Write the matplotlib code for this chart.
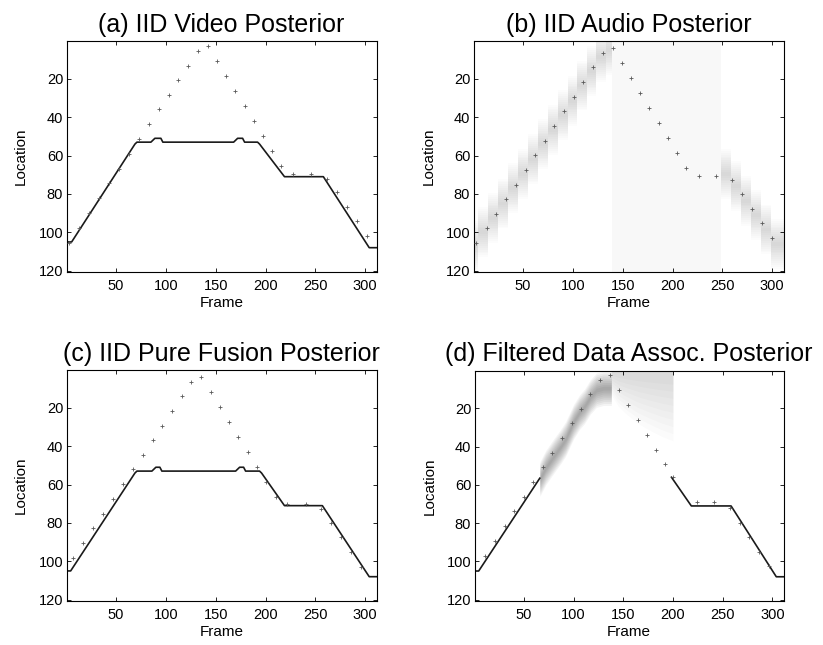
import matplotlib.pyplot as plt
import numpy as np

plt.rcParams['font.family'] = ['Liberation Sans', 'DejaVu Sans']

# ground truth location markers, one list per panel (marker phase differs)
truth_a_frames = [3, 13, 23, 33, 43, 53, 63, 73, 83, 93, 103, 112, 122, 132, 142,
                  151, 160, 169, 179, 188, 197, 206, 215.5, 228, 246, 262, 272, 282, 291.5, 301.5]
truth_a_locs = [105.4, 97.7, 90, 82.3, 74.5, 66.8, 59.1, 51.4, 43.6, 35.9, 28.3, 20.7, 13.1, 5.5, 3.1,
                10.8, 18.6, 26.4, 34.1, 41.9, 49.7, 57.8, 65.2, 69.4, 69.4, 72, 79.1, 86.6, 94.1, 101.9]

truth_b_frames = [3, 13.5, 23, 33, 43, 52.5, 62, 72, 81.5, 91, 101, 110.5, 120, 130, 140,
                  149, 158, 167.5, 176.5, 186, 195, 204.5, 213.5, 226.5, 244, 260, 270, 279.5, 289.5, 299.5]
truth_b_locs = [105.8, 98, 90.4, 82.8, 75.2, 67.4, 59.7, 52.3, 44.5, 36.9, 29.3, 21.5, 13.8, 6.3, 3.9,
                11.7, 19.5, 27.4, 35, 42.9, 50.7, 58.5, 66.4, 70.4, 70.4, 72.6, 80.1, 87.7, 95.1, 102.9]

truth_c_frames = [7, 17, 27, 37, 47, 57, 67, 77, 87, 96.5, 106, 116, 125.5, 135.5,
                  145, 154, 163, 172.5, 182, 191, 200.5, 210, 222, 240.5, 256, 266, 276, 286, 296]
truth_c_locs = [98.2, 90.5, 82.8, 75.2, 67.5, 59.8, 52.1, 44.5, 36.9, 29.3, 21.6, 14, 6.4, 4.1,
                11.9, 19.7, 27.4, 35.2, 43, 50.9, 58.5, 66.3, 70.3, 70.3, 72.8, 79.9, 87.5, 95.1, 102.9]

truth_d_frames = [11, 20.5, 30.5, 40, 50, 59, 69, 78, 88, 98, 107.5, 117, 127, 137,
                  146, 155, 164.5, 173.5, 183, 192, 200, 224, 241, 257, 267, 277, 287, 297]
truth_d_locs = [96.9, 89.3, 81.5, 73.9, 66.1, 58.5, 50.9, 43.1, 35.5, 27.8, 20.2, 12.4, 5.1, 2.7,
                10.5, 18.2, 26, 33.8, 41.6, 49.3, 56.1, 69.2, 69.2, 72.2, 79.7, 87.3, 95, 102.6]

# posterior mode paths
video_frames = [0.5, 5.5, 69, 71, 85, 87, 89, 95, 97, 168, 170, 172, 177, 179, 192, 194, 219, 258, 304, 311.5]
video_locs = [105, 105, 54, 53, 53, 52, 51, 51, 53, 53, 52, 51, 51, 53, 53, 54, 71, 71, 108, 108]

fusion_frames = [0.5, 4.5, 69, 71, 86, 88, 90, 94, 96, 170, 172, 174, 178, 180, 194, 196, 219, 257, 304, 311.5]
fusion_locs = [105, 105, 54, 53, 53, 52, 51, 51, 53, 53, 52, 51, 51, 53, 53, 54, 71, 71, 108, 108]

# audio posterior: blocks of frames with a blurred peak
audio_edges1 = [0.5, 5, 15, 25, 35, 45, 55, 65, 75, 85, 95, 104.5, 114, 123.5, 133.5, 139]
audio_centers1 = [107, 100, 92.5, 85, 77, 69.5, 62, 54, 46.5, 39, 31.5, 23.5, 16, 8.5, 5]
audio_edges2 = [249, 259, 269, 279, 289, 299, 311.5]
audio_centers2 = [69.5, 76, 83.5, 91, 98.5, 106]
audio_flat = (139, 249)

# filtered data association posterior
assoc_line1_frames = [0.5, 4.5, 66]
assoc_line1_locs = [105, 105, 56.5]
assoc_line2_frames = [198.5, 218.5, 258.5, 304, 311.5]
assoc_line2_locs = [56, 71, 71, 108, 108]
assoc_band_frames = [66, 72, 80, 87, 92, 100, 106, 111, 117, 123, 130, 138]
assoc_band_locs = [57, 51, 45, 40, 36, 27, 22, 19, 14, 10.5, 9.5, 9.5]
fan_frames = [138, 145, 153, 165, 175, 188, 200]
fan_lower = [13, 19, 23, 28, 31, 34.5, 37]


def setup(ax, title):
    ax.set_xlim(0.5, 311.5)
    ax.set_ylim(120.5, 0.5)
    ax.set_xticks([50, 100, 150, 200, 250, 300])
    ax.set_yticks([20, 40, 60, 80, 100, 120])
    ax.tick_params(direction='in', top=True, right=True, length=3, width=0.6,
                   labelsize=10.5)
    ax.tick_params(axis='x', pad=5)
    ax.tick_params(axis='y', pad=2.5)
    for s in ax.spines.values():
        s.set_linewidth(0.8)
    ax.set_title(title, fontsize=18, pad=7)
    ax.set_xlabel('Frame', fontsize=11)
    ax.set_ylabel('Location', fontsize=11)
    ax.xaxis.set_label_coords(0.5, -0.104)
    ax.yaxis.set_label_coords(-0.124, 0.5)


def band(ax, x, c, widths, alpha, step=None):
    # stacked translucent fills give a soft vertical profile
    c = np.asarray(c, dtype=float)
    for w in widths:
        ax.fill_between(x, c - w, c + w, color='k', alpha=alpha, lw=0, step=step)


def truth(ax, f, l):
    ax.plot(f, l, ls='none', marker='+', ms=2.3, mew=0.6, color='0.35', zorder=5)


fig = plt.figure(figsize=(8.23, 6.45), dpi=100)
ax_a = fig.add_axes([0.0810, 0.5788, 0.3767, 0.3570])
ax_b = fig.add_axes([0.5756, 0.5788, 0.3767, 0.3570])
ax_c = fig.add_axes([0.0810, 0.0687, 0.3767, 0.3572])
ax_d = fig.add_axes([0.5768, 0.0687, 0.3755, 0.3561])

# (a)
ax_a.plot(video_frames, video_locs, color='0.1', lw=1.2)
truth(ax_a, truth_a_frames, truth_a_locs)
setup(ax_a, '(a) IID Video Posterior')

# (b)
ax_b.axvspan(*audio_flat, color='0.972', lw=0, zorder=0)
audio_widths = np.arange(13, 0, -1)
band(ax_b, audio_edges1, audio_centers1 + audio_centers1[-1:], audio_widths, 0.013, step='post')
band(ax_b, audio_edges2, audio_centers2 + audio_centers2[-1:], audio_widths, 0.013, step='post')
truth(ax_b, truth_b_frames, truth_b_locs)
setup(ax_b, '(b) IID Audio Posterior')

# (c)
ax_c.plot(fusion_frames, fusion_locs, color='0.1', lw=1.2)
truth(ax_c, truth_c_frames, truth_c_locs)
setup(ax_c, '(c) IID Pure Fusion Posterior')

# (d)
for scale in np.linspace(1.0, 0.2, 9):
    ax_d.fill_between(fan_frames, 0, np.array(fan_lower) * scale,
                      color='k', alpha=0.017, lw=0)
band(ax_d, assoc_band_frames, assoc_band_locs, np.arange(9, 0, -1), 0.045)
ax_d.plot(assoc_line1_frames, assoc_line1_locs, color='0.1', lw=1.2)
ax_d.plot(assoc_line2_frames, assoc_line2_locs, color='0.1', lw=1.2)
truth(ax_d, truth_d_frames, truth_d_locs)
setup(ax_d, '(d) Filtered Data Assoc. Posterior')

fig.savefig('out.png', dpi=100)
